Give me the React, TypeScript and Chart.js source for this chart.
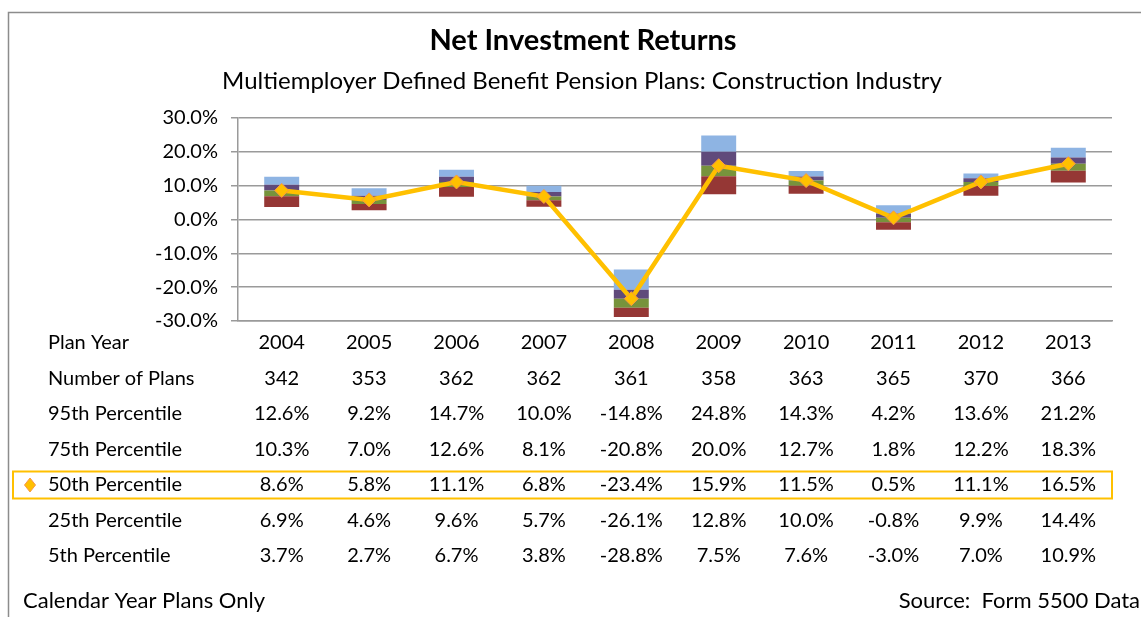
import React, { useEffect, useRef } from "react";
import { Chart, registerables } from "chart.js";

Chart.register(...registerables);

// ---- Data ----
const years = ["2004", "2005", "2006", "2007", "2008", "2009", "2010", "2011", "2012", "2013"];
const numberOfPlans = [342, 353, 362, 362, 361, 358, 363, 365, 370, 366];
const p95 = [12.6, 9.2, 14.7, 10.0, -14.8, 24.8, 14.3, 4.2, 13.6, 21.2];
const p75 = [10.3, 7.0, 12.6, 8.1, -20.8, 20.0, 12.7, 1.8, 12.2, 18.3];
const p50 = [8.6, 5.8, 11.1, 6.8, -23.4, 15.9, 11.5, 0.5, 11.1, 16.5];
const p25 = [6.9, 4.6, 9.6, 5.7, -26.1, 12.8, 10.0, -0.8, 9.9, 14.4];
const p5 = [3.7, 2.7, 6.7, 3.8, -28.8, 7.5, 7.6, -3.0, 7.0, 10.9];
const yMin = -30;
const yMax = 30;
const yStep = 10;

const titleText = "Net Investment Returns";
const subtitleText = "Multiemployer Defined Benefit Pension Plans: Construction Industry";
const footLeft = "Calendar Year Plans Only";
const footRight = "Source:  Form 5500 Data";
const rowLabels = [
  "Plan Year",
  "Number of Plans",
  "95th Percentile",
  "75th Percentile",
  "50th Percentile",
  "25th Percentile",
  "5th Percentile",
];

const FONT = "Lato, 'Open Sans', sans-serif";
const fmtPct = (v: number) => v.toFixed(1) + "%";

const tablePlugin = {
  id: "tablePlugin",
  afterDraw(chart: any) {
    const ctx = chart.ctx as CanvasRenderingContext2D;
    const xs = chart.scales.x;
    ctx.save();
    // frame
    ctx.strokeStyle = "#8c8c8c";
    ctx.lineWidth = 1.5;
    ctx.beginPath();
    ctx.moveTo(8.5, 640);
    ctx.lineTo(8.5, 12.5);
    ctx.lineTo(1160, 12.5);
    ctx.stroke();

    ctx.fillStyle = "#000";
    ctx.textAlign = "center";
    ctx.textBaseline = "middle";
    ctx.font = `bold 29px ${FONT}`;
    ctx.fillText(titleText, 583, 41);
    ctx.font = `24px ${FONT}`;
    ctx.fillText(subtitleText, 582, 81);

    const rows: string[][] = [
      years,
      numberOfPlans.map(String),
      p95.map(fmtPct),
      p75.map(fmtPct),
      p50.map(fmtPct),
      p25.map(fmtPct),
      p5.map(fmtPct),
    ];
    const rowY0 = 343;
    const rowH = 35.5;
    ctx.font = `20px ${FONT}`;
    rows.forEach((vals, r) => {
      const y = rowY0 + r * rowH;
      ctx.textAlign = "left";
      ctx.fillText(rowLabels[r], 48, y);
      ctx.textAlign = "center";
      vals.forEach((v, i) => {
        ctx.fillText(v, xs.getPixelForValue(i), y);
      });
    });

    // highlighted 50th percentile row
    const hy = rowY0 + 4 * rowH;
    ctx.strokeStyle = "#FFC000";
    ctx.lineWidth = 2;
    ctx.strokeRect(13, hy - 13.5, chart.chartArea.right - 13, 27);
    // legend diamond
    ctx.fillStyle = "#FFC000";
    ctx.strokeStyle = "#F79646";
    ctx.lineWidth = 1;
    ctx.beginPath();
    ctx.moveTo(30, hy - 7);
    ctx.lineTo(35.5, hy);
    ctx.lineTo(30, hy + 7);
    ctx.lineTo(24.5, hy);
    ctx.closePath();
    ctx.fill();
    ctx.stroke();

    ctx.fillStyle = "#000";
    ctx.font = `22px ${FONT}`;
    ctx.textAlign = "left";
    ctx.fillText(footLeft, 23, 601);
    ctx.textAlign = "right";
    ctx.fillText(footRight, 1140, 601);
    ctx.restore();
  },
};

export default function App() {
  const ref = useRef<HTMLCanvasElement>(null);
  useEffect(() => {
    if (!ref.current) return;
    const band = (lo: number[], hi: number[]) => lo.map((v, i) => [v, hi[i]]);
    const barCommon = {
      type: "bar" as const,
      grouped: false,
      barPercentage: 0.4,
      categoryPercentage: 1,
      borderWidth: 0,
      order: 2,
    };
    const chart = new Chart(ref.current, {
      type: "bar",
      data: {
        labels: years,
        datasets: [
          { ...barCommon, label: "5th-25th", data: band(p5, p25) as any, backgroundColor: "#953735" },
          { ...barCommon, label: "25th-50th", data: band(p25, p50) as any, backgroundColor: "#77933C" },
          { ...barCommon, label: "50th-75th", data: band(p50, p75) as any, backgroundColor: "#604A7B" },
          { ...barCommon, label: "75th-95th", data: band(p75, p95) as any, backgroundColor: "#8EB4E3" },
          {
            type: "line" as const,
            label: "50th Percentile",
            data: p50,
            borderColor: "#FFC000",
            borderWidth: 4.5,
            backgroundColor: "#FFC000",
            pointStyle: "rectRot",
            pointRadius: 7,
            pointBorderColor: "#F79646",
            pointBorderWidth: 1,
            pointBackgroundColor: "#FFC000",
            tension: 0,
            order: 0,
          } as any,
        ],
      },
      options: {
        responsive: false,
        animation: false,
        devicePixelRatio: 1,
        layout: { padding: { left: 0, top: 118, right: 29, bottom: 296 } },
        plugins: {
          legend: { display: false },
          tooltip: { enabled: false },
          title: { display: false },
        },
        scales: {
          x: {
            ticks: { display: false },
            grid: { display: false, drawTicks: false },
            border: { display: true, color: "#9a9a9a", width: 1.5 },
            afterFit: (s: any) => {
              s.height = 0;
            },
          },
          y: {
            min: yMin,
            max: yMax,
            ticks: {
              stepSize: yStep,
              padding: 13,
              color: "#000",
              font: { family: FONT, size: 20 },
              callback: (v: any) => fmtPct(Number(v)),
            },
            grid: {
              color: "#9a9a9a",
              lineWidth: 1.5,
              tickLength: 7,
              tickColor: "#9a9a9a",
            },
            border: { display: true, color: "#9a9a9a", width: 1.5 },
            afterFit: (s: any) => {
              s.width = 238;
            },
          },
        },
      },
      plugins: [tablePlugin],
    });
    return () => chart.destroy();
  }, []);
  return (
    <div style={{ position: "fixed", left: 0, top: 0, width: 1141, height: 617, background: "#fff" }}>
      <canvas ref={ref} width={1141} height={617} style={{ width: 1141, height: 617, display: "block" }} />
    </div>
  );
}
